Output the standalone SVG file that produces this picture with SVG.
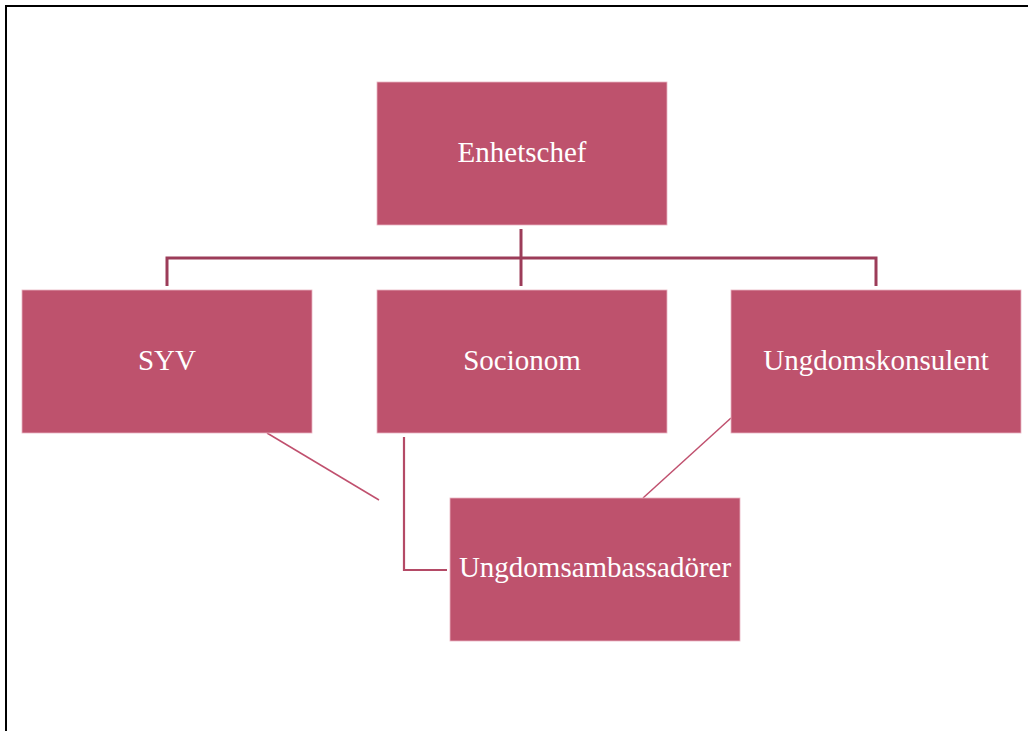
<svg xmlns="http://www.w3.org/2000/svg" width="1028" height="731" viewBox="0 0 1028 731">
<style>
.box{fill:#be526d;stroke:#e9b5c2;stroke-width:0.8}
.lbl{font-family:"Liberation Serif","Times New Roman",serif;font-size:29px;fill:#ffffff;text-anchor:middle}
.tree{fill:none;stroke:#9c3c59;stroke-width:3}
.thin{fill:none;stroke:#c0506e;stroke-width:1.5}
.mid{fill:none;stroke:#b44a66;stroke-width:2.2}
</style>
<rect x="0" y="0" width="1028" height="731" fill="#ffffff"/>
<path d="M6,731 V6 H1028" fill="none" stroke="#000000" stroke-width="2"/>
<g id="connectors">
<path class="tree" d="M521,229 V286"/>
<path class="tree" d="M167,286 V258 H876 V286"/>
<path class="thin" d="M267,433 L379,500"/>
<path class="mid" d="M404,437 V570 H447"/>
<path class="thin" d="M731,418 L643,498"/>
</g>
<g id="enhetschef">
<rect class="box" x="377" y="82" width="290" height="143"/>
<text class="lbl" x="522" y="162">Enhetschef</text>
</g>
<g id="syv">
<rect class="box" x="22" y="290" width="290" height="143"/>
<text class="lbl" x="167" y="370">SYV</text>
</g>
<g id="socionom">
<rect class="box" x="377" y="290" width="290" height="143"/>
<text class="lbl" x="522" y="370">Socionom</text>
</g>
<g id="ungdomskonsulent">
<rect class="box" x="731" y="290" width="290" height="143"/>
<text class="lbl" x="876" y="370">Ungdomskonsulent</text>
</g>
<g id="ungdomsambassadorer">
<rect class="box" x="450" y="498" width="290" height="143"/>
<text class="lbl" x="595" y="577">Ungdomsambassadörer</text>
</g>
</svg>
